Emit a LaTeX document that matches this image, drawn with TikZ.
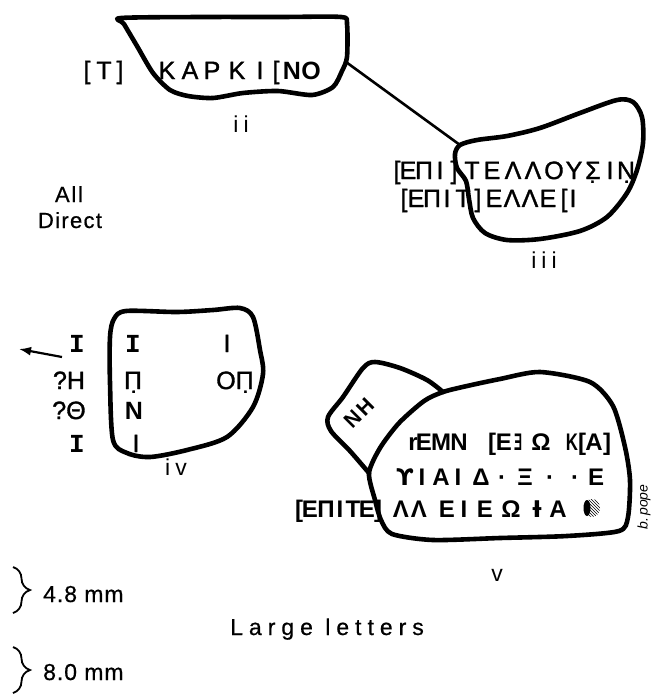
\documentclass[tikz,border=0pt]{standalone}
\usepackage{fontspec}
\usepackage{graphicx}
\setmainfont{Liberation Sans}
\newfontfamily\monof{Liberation Mono}
\newfontfamily\djv{DejaVu Sans}
\usetikzlibrary{arrows.meta,decorations.pathreplacing,patterns}
\begin{document}
\begin{tikzpicture}[x=1pt,y=-1pt,
  outline/.style={line width=4.6pt, line join=round, line cap=round},
  gl/.style={inner sep=0pt, anchor=base, font=\fontsize{25}{25}\selectfont\addfontfeature{FakeBold=1.3}},
  glb/.style={gl, font=\fontsize{25}{25}\selectfont\bfseries},
  vt/.style={gl, font=\fontsize{24}{24}\selectfont\bfseries},
  serifI/.style={gl, font=\fontsize{26}{26}\selectfont\monof\bfseries},
  lab/.style={inner sep=0pt, anchor=base, font=\fontsize{23}{23}\selectfont\addfontfeature{LetterSpace=22}},
  note/.style={inner sep=0pt, anchor=base west, font=\fontsize{23}{23}\selectfont\addfontfeature{LetterSpace=4,FakeBold=0.6}},
  brc/.style={decorate, decoration={brace, amplitude=17pt, aspect=0.5}, line width=1.8pt}]
\useasboundingbox (0,0) rectangle (657,697);

% ---------------- fragment ii ----------------
\draw[outline] plot[smooth cycle, tension=0.45] coordinates {
  (121,18) (200,17) (280,17) (341,17) (347,24) (347,57) (342,71) (333,87)
  (312,95) (278,91) (243,93) (213,98) (188,96) (170,90) (153,73) (137,46) (124,24)};
\node[gl] (iiA) at (87,79) {[};
\node[gl] (iiB) at (104,79) {Τ};
\node[gl] (iiC) at (120,79) {]};
\foreach \x/\c [count=\i] in {167/Κ,190/Α,212/Ρ,237/Κ,260/Ι,276/{[}}
  \node[gl] (ii\i) at (\x,79) {\c};
\node[glb] (iiN) at (292,79) {Ν};
\node[glb] (iiO) at (311,79) {Ο};
\node[lab] (labii) at (241,132) {ii};

% connector ii -- iii
\coordinate (iiR) at (346,62);
\coordinate (iiiL) at (460,145);
\draw[line width=2.6pt, line cap=round] (iiR) -- (iiiL);

% ---------------- fragment iii ----------------
\draw[outline] plot[smooth cycle, tension=0.5] coordinates {
  (460,145) (477,140) (507,136) (540,128) (580,113) (617,100) (633,102)
  (642,117) (643,143) (637,170) (627,193) (607,217) (580,231) (540,239)
  (507,240) (485,233) (473,218) (469,199) (466,181) (457,168) (455,154)};
\foreach \x/\c [count=\i] in {397/{[},408/Ε,424/Π,440/Ι,454/{]},472/Τ,492/Ε,513/Λ,533/Λ,554/Ο,574/Υ,593/Σ̣,610/Ι,626/Ν̣}
  \node[gl] (ta\i) at (\x,179) {\c};
\foreach \x/\c [count=\i] in {404/{[},416/Ε,432/Π,447/Ι,463/Τ,478/{]},494/Ε,512/Λ,530/Λ,548/Ε,564/{[},573/Ι}
  \node[gl] (tb\i) at (\x,207) {\c};
\node[lab] (labiii) at (544,268) {iii};

% ---------------- All Direct ----------------
\node[lab, font=\fontsize{22}{22}\selectfont\addfontfeature{LetterSpace=8,FakeBold=0.6}] (all) at (69,202) {All};
\node[lab, font=\fontsize{22}{22}\selectfont\addfontfeature{LetterSpace=6,FakeBold=0.6}] (direct) at (70,228) {Direct};

% ---------------- fragment iv ----------------
\draw[outline] plot[smooth cycle, tension=0.5] coordinates {
  (114,319) (126,311) (177,312) (213,310) (240,308) (253,317) (260,350)
  (263,374) (253,407) (227,437) (187,450) (150,457) (127,453) (113,440)
  (110,383) (110,337)};
\node[serifI] (ivL1) at (77,352) {I};
\node[gl] (ivL2) at (69,389) {?Η};
\node[gl] (ivL3) at (69,419) {?Θ};
\node[serifI] (ivL4) at (77,452) {I};
\node[serifI] (ivM1) at (133,352) {I};
\node[gl] (ivM2) at (133,389) {Π̣};
\node[glb] (ivM3) at (134,419) {Ν};
\node[gl] (ivM4) at (136,452) {Ι};
\node[gl] (ivR1) at (227,352) {Ι};
\node[gl] (ivR2) at (235,389) {ΟΠ̣};
\coordinate (arrT) at (62,357);
\coordinate (arrH) at (19,349);
\draw[line width=2.2pt, -{Latex[length=12pt,width=9pt]}] (arrT) -- (arrH);
\node[lab] (labiv) at (176,475) {iv};

% ---------------- fragment v ----------------
\draw[outline] plot[smooth, tension=0.5] coordinates {
  (443,392) (427,380) (400,368) (375,362) (363,368) (343,397) (328,417)
  (331,431) (350,451) (369,473)};
\draw[outline] plot[smooth cycle, tension=0.45] coordinates {
  (443,392) (467,386) (500,379) (540,372) (590,382) (613,406) (625,447)
  (630,480) (628,517) (619,531) (567,536) (500,538) (433,540) (392,534)
  (381,520) (375,500) (369,473) (380,448) (399,423) (424,401)};
\node[inner sep=0pt, rotate=45, font=\fontsize{21}{21}\selectfont\bfseries\addfontfeature{LetterSpace=12}] (nh) at (359,413) {ΝΗ};
% row 1
\node[vt] (r1g) at (413,450) {r};
\foreach \x/\c [count=\i] in {424/Ε,441/Μ,459/Ν,492/{[},504/Ε,541/Ω,582/{[},594/Α,607/{]}}
  \node[vt] (r1\i) at (\x,450) {\c};
\node[vt] (r1e) at (518,450) {\scalebox{0.5}[1]{Ǝ}};
\node[vt] (r1k) at (572,450) {\scalebox{0.7}[1]{Κ}};
% row 2
\node[vt, font=\fontsize{23}{23}\selectfont\djv\bfseries] (r2y) at (405,485) {ϒ};
\foreach \x/\c [count=\i] in {422/Ι,441/Α,458/Ι,481/Δ,502/·,525/Ξ,550/·,575/·,596/Ε}
  \node[vt] (r2\i) at (\x,485) {\c};
% row 3
\foreach \x/\c [count=\i] in {299/{[},310/Ε,326/Π,340/Ι,353/Τ,367/Ε,378/{]},401/Λ,419/Λ,447/Ε,464/Ι,485/Ε,511/Ω,558/Α}
  \node[vt] (r3\i) at (\x,517) {\c};
\node[vt, font=\fontsize{23}{23}\selectfont\djv\bfseries] (r3i) at (537,517) {Ɨ};
\path[pattern=north west lines] (592,508) ellipse (8 and 9);
\fill (587,508) ellipse (3.5 and 8);
\node[inner sep=0pt, rotate=90, font=\fontsize{14}{14}\selectfont\itshape] (sig) at (644,507) {b.\,pope};
\node[lab] (labv) at (497,581) {v};

% ---------------- scale notes ----------------
\coordinate (b1t) at (13,567);
\coordinate (b1b) at (13,613);
\coordinate (b2t) at (13,647);
\coordinate (b2b) at (13,693);
\draw[brc] (b1t) -- (b1b);
\draw[brc] (b2t) -- (b2b);
\node[note] (n48) at (43,602) {4.8 mm};
\node[note] (n80) at (43,680) {8.0 mm};
\node[inner sep=0pt, anchor=base west, font=\fontsize{23}{23}\selectfont\addfontfeature{LetterSpace=26,FakeBold=0.6}] (large) at (230,635) {Large letters};
\end{tikzpicture}
\end{document}
